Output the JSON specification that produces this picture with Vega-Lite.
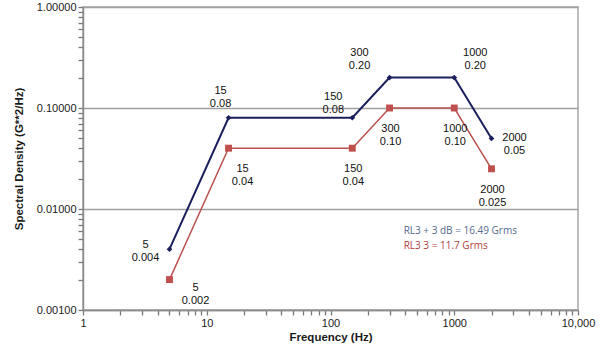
{
  "$schema": "https://vega.github.io/schema/vega-lite/v6.json",
  "width": 495,
  "height": 303,
  "autosize": "none",
  "padding": {"left": 83, "top": 7, "right": 22, "bottom": 44},
  "background": "white",
  "config": {
    "view": {"stroke": "#a6a6a6", "strokeWidth": 1.5},
    "font": "Liberation Sans",
    "axis": {
      "labelFont": "Liberation Sans",
      "labelFontSize": 11,
      "labelColor": "#1a1a1a",
      "titleFont": "Liberation Sans",
      "titleFontSize": 11.5,
      "titleFontWeight": "bold",
      "titleColor": "#1a1a1a",
      "domainColor": "#8c8c8c",
      "domainWidth": 1.5,
      "tickColor": "#7a7a7a",
      "tickWidth": 1.3,
      "tickSize": 5,
      "labelPadding": 2,
      "labelOverlap": false,
      "labelFlush": false
    }
  },
  "datasets": {
    "pts": [
      {"series": "RL3 + 3 dB", "freq": 5, "psd": 0.004, "label": "5\n0.004"},
      {"series": "RL3 + 3 dB", "freq": 15, "psd": 0.08, "label": "15\n0.08"},
      {"series": "RL3 + 3 dB", "freq": 150, "psd": 0.08, "label": "150\n0.08"},
      {"series": "RL3 + 3 dB", "freq": 300, "psd": 0.2, "label": "300\n0.20"},
      {"series": "RL3 + 3 dB", "freq": 1000, "psd": 0.2, "label": "1000\n0.20"},
      {"series": "RL3 + 3 dB", "freq": 2000, "psd": 0.05, "label": "2000\n0.05"},
      {"series": "RL3", "freq": 5, "psd": 0.002, "label": "5\n0.002"},
      {"series": "RL3", "freq": 15, "psd": 0.04, "label": "15\n0.04"},
      {"series": "RL3", "freq": 150, "psd": 0.04, "label": "150\n0.04"},
      {"series": "RL3", "freq": 300, "psd": 0.1, "label": "300\n0.10"},
      {"series": "RL3", "freq": 1000, "psd": 0.1, "label": "1000\n0.10"},
      {"series": "RL3", "freq": 2000, "psd": 0.025, "label": "2000\n0.025"}
    ],
    "notes": [
      {"series": "RL3 + 3 dB", "freq": 390, "psd": 0.0060, "label": "RL3 + 3 dB = 16.49 Grms"},
      {"series": "RL3", "freq": 390, "psd": 0.0043, "label": "RL3 3  = 11.7 Grms"}
    ]
  },
  "encoding": {
    "x": {
      "field": "freq",
      "type": "quantitative",
      "scale": {"type": "log", "domain": [1, 10000], "nice": false},
      "axis": {
        "title": "Frequency (Hz)",
        "titlePadding": 3,
        "grid": false,
        "values": [1,2,3,4,5,6,7,8,9,10,20,30,40,50,60,70,80,90,100,200,300,400,500,600,700,800,900,1000,2000,3000,4000,5000,6000,7000,8000,9000,10000],
        "labelExpr": "datum.value == 10000 ? '10,000' : (indexof([1,10,100,1000], datum.value) >= 0 ? format(datum.value, 'd') : '')",
        "encode": {"labels": {"update": {"dy": {"signal": "datum.value == 10000 ? 10 : 0"}}}}
      }
    },
    "y": {
      "field": "psd",
      "type": "quantitative",
      "scale": {"type": "log", "domain": [0.001, 1], "nice": false},
      "axis": {
        "title": "Spectral Density (G**2/Hz)",
        "titlePadding": 12,
        "grid": true,
        "gridColor": "#a0a0a0",
        "gridWidth": 1.5,
        "gridOpacity": {"condition": {"test": "indexof([0.001,0.01,0.1,1], datum.value) >= 0", "value": 1}, "value": 0},
        "values": [0.001,0.002,0.003,0.004,0.005,0.006,0.007,0.008,0.009,0.01,0.02,0.03,0.04,0.05,0.06,0.07,0.08,0.09,0.1,0.2,0.3,0.4,0.5,0.6,0.7,0.8,0.9,1],
        "labelExpr": "indexof([0.001,0.01,0.1,1], datum.value) >= 0 ? format(datum.value, '.5f') : ''"
      }
    }
  },
  "layer": [
    {
      "data": {"name": "pts"},
      "mark": {"type": "line"},
      "encoding": {
        "color": {"field": "series", "type": "nominal", "scale": {"domain": ["RL3 + 3 dB", "RL3"], "range": ["#1b1f5c", "#b9524e"]}, "legend": null},
        "strokeWidth": {"field": "series", "type": "nominal", "scale": {"domain": ["RL3 + 3 dB", "RL3"], "range": [2, 1.5]}, "legend": null}
      }
    },
    {
      "data": {"name": "pts"},
      "transform": [{"filter": "datum.series == 'RL3 + 3 dB'"}],
      "mark": {"type": "point", "shape": "diamond", "filled": true, "size": 32, "color": "#1b1f5c", "opacity": 1},
      "encoding": {}
    },
    {
      "data": {"name": "pts"},
      "transform": [{"filter": "datum.series == 'RL3'"}],
      "mark": {"type": "point", "shape": "square", "filled": true, "size": 48, "color": "#c0504d", "opacity": 1},
      "encoding": {}
    },
    {
      "data": {"name": "pts"},
      "transform": [{"filter": "datum.series == 'RL3 + 3 dB' && datum.freq == 5"}],
      "mark": {"type": "text", "lineBreak": "\n", "fontSize": 11, "lineHeight": 13, "color": "#111", "align": "center", "baseline": "middle", "dx": -24, "dy": -4},
      "encoding": {"text": {"field": "label"}}
    },
    {
      "data": {"name": "pts"},
      "transform": [{"filter": "datum.series == 'RL3 + 3 dB' && datum.freq == 15"}],
      "mark": {"type": "text", "lineBreak": "\n", "fontSize": 11, "lineHeight": 13, "color": "#111", "align": "center", "baseline": "middle", "dx": -8, "dy": -27},
      "encoding": {"text": {"field": "label"}}
    },
    {
      "data": {"name": "pts"},
      "transform": [{"filter": "datum.series == 'RL3 + 3 dB' && datum.freq == 150"}],
      "mark": {"type": "text", "lineBreak": "\n", "fontSize": 11, "lineHeight": 13, "color": "#111", "align": "center", "baseline": "middle", "dx": -19, "dy": -21},
      "encoding": {"text": {"field": "label"}}
    },
    {
      "data": {"name": "pts"},
      "transform": [{"filter": "datum.series == 'RL3 + 3 dB' && datum.freq == 300"}],
      "mark": {"type": "text", "lineBreak": "\n", "fontSize": 11, "lineHeight": 13, "color": "#111", "align": "center", "baseline": "middle", "dx": -30, "dy": -25},
      "encoding": {"text": {"field": "label"}}
    },
    {
      "data": {"name": "pts"},
      "transform": [{"filter": "datum.series == 'RL3 + 3 dB' && datum.freq == 1000"}],
      "mark": {"type": "text", "lineBreak": "\n", "fontSize": 11, "lineHeight": 13, "color": "#111", "align": "center", "baseline": "middle", "dx": 21, "dy": -25},
      "encoding": {"text": {"field": "label"}}
    },
    {
      "data": {"name": "pts"},
      "transform": [{"filter": "datum.series == 'RL3 + 3 dB' && datum.freq == 2000"}],
      "mark": {"type": "text", "lineBreak": "\n", "fontSize": 11, "lineHeight": 13, "color": "#111", "align": "center", "baseline": "middle", "dx": 23, "dy": 0},
      "encoding": {"text": {"field": "label"}}
    },
    {
      "data": {"name": "pts"},
      "transform": [{"filter": "datum.series == 'RL3' && datum.freq == 5"}],
      "mark": {"type": "text", "lineBreak": "\n", "fontSize": 11, "lineHeight": 13, "color": "#111", "align": "center", "baseline": "middle", "dx": 26, "dy": 8},
      "encoding": {"text": {"field": "label"}}
    },
    {
      "data": {"name": "pts"},
      "transform": [{"filter": "datum.series == 'RL3' && datum.freq == 15"}],
      "mark": {"type": "text", "lineBreak": "\n", "fontSize": 11, "lineHeight": 13, "color": "#111", "align": "center", "baseline": "middle", "dx": 14, "dy": 21},
      "encoding": {"text": {"field": "label"}}
    },
    {
      "data": {"name": "pts"},
      "transform": [{"filter": "datum.series == 'RL3' && datum.freq >= 150"}],
      "mark": {"type": "text", "lineBreak": "\n", "fontSize": 11, "lineHeight": 13, "color": "#111", "align": "center", "baseline": "middle", "dx": 1, "dy": 21},
      "encoding": {"text": {"field": "label"}}
    },
    {
      "data": {"name": "notes"},
      "transform": [{"filter": "datum.series == 'RL3 + 3 dB'"}],
      "mark": {"type": "text", "font": "Open Sans", "fontSize": 10, "color": "#55698a", "align": "left", "baseline": "middle"},
      "encoding": {"text": {"field": "label"}}
    },
    {
      "data": {"name": "notes"},
      "transform": [{"filter": "datum.series == 'RL3'"}],
      "mark": {"type": "text", "font": "Open Sans", "fontSize": 10, "color": "#b0423d", "align": "left", "baseline": "middle"},
      "encoding": {"text": {"field": "label"}}
    }
  ]
}
